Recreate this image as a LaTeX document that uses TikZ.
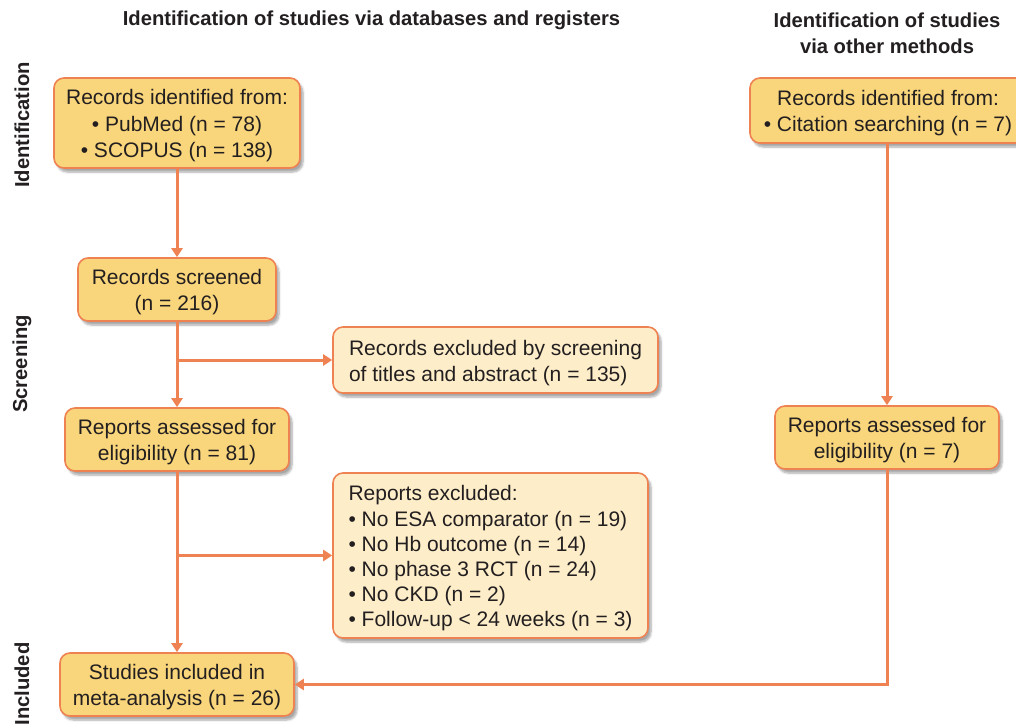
\documentclass[tikz,border=0pt]{standalone}
\usepackage{fontspec}
\setmainfont{Liberation Sans}
\usetikzlibrary{arrows.meta,shadows.blur,positioning}
\definecolor{boxdark}{RGB}{249,214,123}
\definecolor{boxlight}{RGB}{253,238,201}
\definecolor{edgeor}{RGB}{238,130,82}
\definecolor{txt}{RGB}{35,31,32}
\tikzset{
  base/.style={draw=edgeor, line width=1.6pt, rounded corners=10pt, inner sep=0pt,
    text=txt, font=\fontsize{21}{26}\selectfont, text height=47pt,
    blur shadow={shadow xshift=3pt, shadow yshift=-4pt, shadow blur steps=6, shadow opacity=35}},
  dark/.style={base, fill=boxdark, align=center},
  light/.style={base, fill=boxlight, align=left},
  arr/.style={draw=edgeor, line width=3pt, -{Triangle[width=11pt,length=9pt]}},
  head/.style={font=\bfseries\fontsize{20.2}{26}\selectfont, text=txt, align=center, inner sep=0pt},
  side/.style={font=\bfseries\fontsize{20.2}{24}\selectfont, text=txt, rotate=90, inner sep=0pt}
}
\begin{document}
\begin{tikzpicture}[x=1pt,y=-1pt]
\useasboundingbox (0,0) rectangle (1016,725);
\clip (0,0) rectangle (1016,725);
% headers
\node[head] (h1) at (371.5,20) {Identification of studies via databases and registers};
\node[head] (h2) at (887,33) {Identification of studies\\via other methods};
% side labels
\node[side] (s1) at (22,125) {Identification};
\node[side] (s2) at (22,364) {Screening};
\node[side] (s3) at (22,684) {Included};
% boxes
\node[dark, minimum width=246pt, minimum height=90pt, font=\fontsize{21}{26.5}\selectfont, text height=74pt] (A) at (177,123)
  {Records identified from:\\• PubMed (n = 78)\\• SCOPUS (n = 138)};
\node[dark, minimum width=198pt, minimum height=63pt] (B) at (177,289.5)
  {Records screened\\(n = 216)};
\node[dark, minimum width=224pt, minimum height=63pt] (C) at (177,439.5)
  {Reports assessed for\\eligibility (n = 81)};
\node[dark, minimum width=234pt, minimum height=63pt] (D) at (177,684.5)
  {Studies included in\\meta-analysis (n = 26)};
\node[light, minimum width=325pt, minimum height=66pt] (E) at (495.5,360)
  {Records excluded by screening\\of titles and abstract (n = 135)};
\node[light, minimum width=315pt, minimum height=165pt, font=\fontsize{21}{25.2}\selectfont, text height=147pt] (F) at (490.5,555.5)
  {Reports excluded:\\• No ESA comparator (n = 19)\\• No Hb outcome (n = 14)\\• No phase 3 RCT (n = 24)\\• No CKD (n = 2)\\• Follow-up < 24 weeks (n = 3)};
\node[dark, minimum width=276pt, minimum height=65pt] (G) at (888,110.5)
  {Records identified from:\\• Citation searching (n = 7)};
\node[dark, minimum width=224pt, minimum height=63pt] (H) at (887,437.5)
  {Reports assessed for\\eligibility (n = 7)};
% connectors
\coordinate (b1) at (177,360);
\coordinate (c1) at (177,555.5);
\draw[arr] (A.south) -- (B.north);
\draw[arr] (B.south) -- (C.north);
\draw[arr] (b1) -- (E.west);
\draw[arr] (C.south) -- (D.north);
\draw[arr] (c1) -- (F.west);
\draw[arr] (G.south -| H.north) -- (H.north);
\draw[arr] (H.south) |- (D.east);
\end{tikzpicture}
\end{document}
